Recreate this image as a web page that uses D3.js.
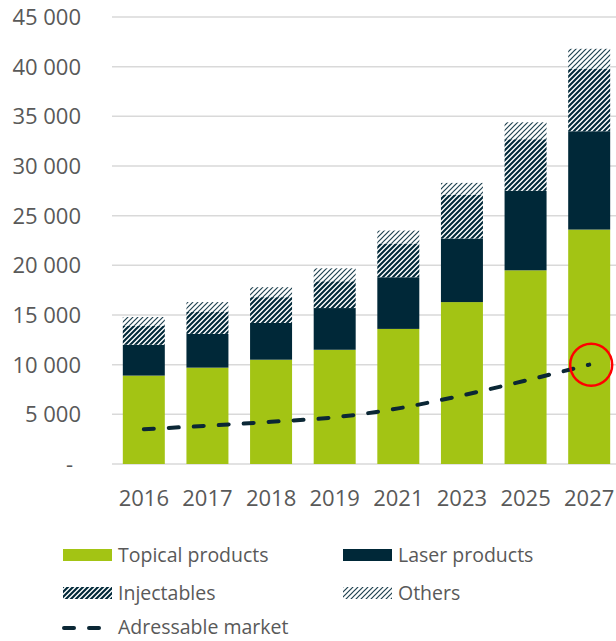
<!DOCTYPE html>
<html>
<head>
<meta charset="utf-8">
<script src="https://cdn.jsdelivr.net/npm/d3@7"></script>
<style>
  html, body { margin: 0; padding: 0; background: #fff; }
  svg { display: block; }
  text { font-family: "Open Sans", sans-serif; fill: #595959; }
</style>
</head>
<body>
<svg id="chart" width="616" height="641"></svg>
<script>
const years = ["2016", "2017", "2018", "2019", "2021", "2023", "2025", "2027"];
const topical = [8900, 9700, 10500, 11500, 13600, 16300, 19500, 23600];
const laser = [3100, 3400, 3700, 4200, 5200, 6400, 8000, 9900];
const injectables = [1900, 2200, 2600, 2700, 3400, 4400, 5200, 6300];
const others = [900, 1000, 1000, 1300, 1300, 1200, 1700, 2000];
const market = [3500, 3850, 4250, 4700, 5600, 6900, 8400, 10000];
const yTicks = [0, 5000, 10000, 15000, 20000, 25000, 30000, 35000, 40000, 45000];

const seriesNames = ["Topical products", "Laser products", "Injectables", "Others"];
const seriesFill = ["#a3c414", "#002838", "url(#patInj)", "url(#patOth)"];
const lineName = "Adressable market";

const svg = d3.select("#chart");
const defs = svg.append("defs");

function stripes(id, sw, col) {
  const s = 5;
  const p = defs.append("pattern").attr("id", id)
    .attr("patternUnits", "userSpaceOnUse").attr("width", s).attr("height", s);
  p.append("rect").attr("width", s).attr("height", s).attr("fill", "#fff");
  p.append("path").attr("d", `M-1,1 l2,-2 M0,${s} l${s},-${s} M${s - 1},${s + 1} l2,-2`)
    .attr("stroke", col).attr("stroke-width", sw);
}
stripes("patInj", 2.1, "#002838");
stripes("patOth", 1.2, "#1f4250");

const x = d3.scaleBand().domain(years).range([112, 621]).paddingInner(0.34).paddingOuter(0.17);
const y = d3.scaleLinear().domain([0, 45000]).range([464, 17]);

// grid
svg.append("g").selectAll("line").data(yTicks).join("line")
  .attr("x1", 112).attr("x2", 621)
  .attr("y1", d => y(d)).attr("y2", d => y(d))
  .attr("stroke", "#d9d9d9").attr("stroke-width", 1.5);

// y labels
const fmt = v => v === 0 ? "-" : d3.format(",")(v).replace(/,/g, " ");
svg.append("g").selectAll("text").data(yTicks).join("text")
  .attr("x", d => d === 0 ? 73 : 81).attr("y", d => y(d))
  .attr("dy", "0.36em").attr("text-anchor", "end")
  .attr("font-size", 22).text(fmt);

// stacked bars
const rows = years.map((yr, i) => ({
  year: yr, "Topical products": topical[i], "Laser products": laser[i],
  "Injectables": injectables[i], "Others": others[i]
}));
const stack = d3.stack().keys(seriesNames)(rows);
svg.append("g").selectAll("g").data(stack).join("g")
  .attr("fill", (d, i) => seriesFill[i])
  .selectAll("rect").data(d => d).join("rect")
  .attr("x", d => x(d.data.year))
  .attr("width", x.bandwidth())
  .attr("y", d => y(d[1]))
  .attr("height", d => y(d[0]) - y(d[1]));

// x labels
svg.append("g").selectAll("text").data(years).join("text")
  .attr("x", d => x(d) + x.bandwidth() / 2).attr("y", 506)
  .attr("text-anchor", "middle").attr("font-size", 22).text(d => d);

// market line
const line = d3.line()
  .x((d, i) => x(years[i]) + x.bandwidth() / 2)
  .y(d => y(d))
  .curve(d3.curveMonotoneX);
svg.append("path").datum(market)
  .attr("d", line).attr("fill", "none")
  .attr("stroke", "#0b2735").attr("stroke-width", 4)
  .attr("stroke-linecap", "round").attr("stroke-dasharray", "10,15");

// red circle annotation on last market point
const li = years.length - 1;
svg.append("circle")
  .attr("cx", x(years[li]) + x.bandwidth() / 2 + 2)
  .attr("cy", y(market[li]))
  .attr("r", 21).attr("fill", "none")
  .attr("stroke", "#ff0000").attr("stroke-width", 2.5);

// legend
const legItems = [
  { name: seriesNames[0], fill: seriesFill[0], lx: 63, ly: 555 },
  { name: seriesNames[1], fill: seriesFill[1], lx: 343, ly: 555 },
  { name: seriesNames[2], fill: seriesFill[2], lx: 63, ly: 593 },
  { name: seriesNames[3], fill: seriesFill[3], lx: 343, ly: 593 }
];
const leg = svg.append("g");
legItems.forEach(it => {
  leg.append("rect").attr("x", it.lx).attr("y", it.ly - 6)
    .attr("width", 49).attr("height", 12).attr("fill", it.fill);
  leg.append("text").attr("x", it.lx + 55).attr("y", it.ly)
    .attr("dy", "0.36em").attr("font-size", 19.5).text(it.name);
});
leg.append("line").attr("x1", 64).attr("x2", 102).attr("y1", 628).attr("y2", 628)
  .attr("stroke", "#0b2735").attr("stroke-width", 4)
  .attr("stroke-linecap", "round").attr("stroke-dasharray", "10,15");
leg.append("text").attr("x", 118).attr("y", 627).attr("dy", "0.36em")
  .attr("font-size", 19.5).text(lineName);
</script>
</body>
</html>
